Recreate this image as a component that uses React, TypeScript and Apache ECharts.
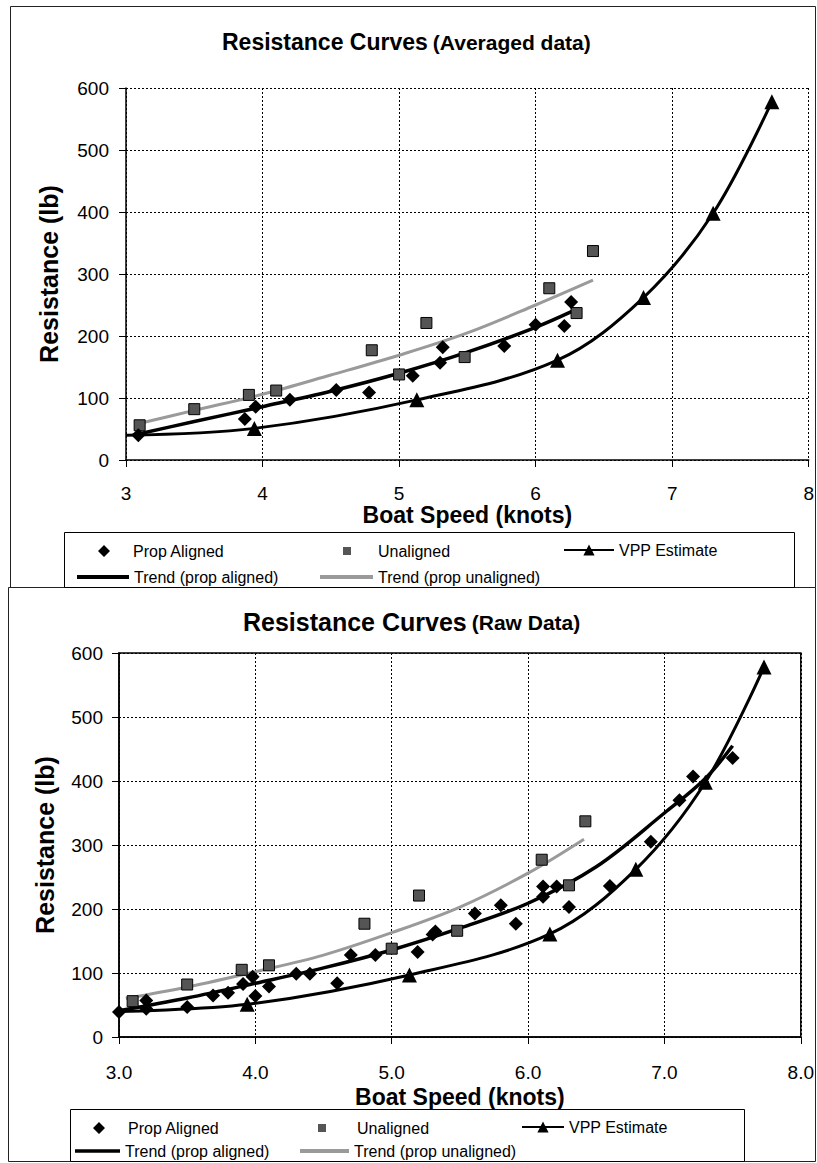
import React, { useEffect, useRef } from "react";
import * as echarts from "echarts";

// ---------- data ----------
const X_TICKS = [3, 4, 5, 6, 7, 8];
const Y_TICKS = [0, 100, 200, 300, 400, 500, 600];

// Averaged data (top chart)
const avgAlignedX = [3.09, 3.87, 3.95, 4.2, 4.54, 4.78, 5.1, 5.3, 5.32, 5.77, 6.0, 6.21, 6.26];
const avgAlignedY = [40, 66, 86, 97, 113, 109, 136, 157, 182, 184, 218, 216, 255];

const unalignedX = [3.1, 3.5, 3.9, 4.1, 4.8, 5.0, 5.2, 5.48, 6.1, 6.3, 6.42];
const unalignedY = [56, 82, 105, 112, 177, 138, 221, 166, 277, 237, 337];

const vppX = [3.0, 3.94, 5.13, 6.16, 6.79, 7.3, 7.73];
const vppY = [40, 51, 97, 161, 262, 398, 578];

const avgTrendAlignedX = [3.05, 3.5, 4.0, 4.5, 5.0, 5.5, 6.0, 6.27];
const avgTrendAlignedY = [40, 62, 86, 111, 140, 174, 214, 240];
const avgTrendUnalignedX = [3.08, 3.5, 4.0, 4.5, 5.0, 5.5, 6.0, 6.42];
const avgTrendUnalignedY = [58, 80, 106, 137, 169, 205, 250, 290];

// Raw data (bottom chart)
const rawAlignedX = [3.0, 3.2, 3.2, 3.5, 3.69, 3.8, 3.91, 3.98, 4.0, 4.1, 4.3, 4.4, 4.6, 4.7, 4.88, 5.19, 5.3, 5.32, 5.61, 5.8, 5.91, 6.11, 6.11, 6.21, 6.3, 6.6, 6.9, 7.11, 7.21, 7.5];
const rawAlignedY = [39, 44, 57, 47, 65, 69, 83, 94, 64, 79, 99, 99, 84, 128, 128, 133, 160, 165, 193, 206, 177, 235, 219, 235, 203, 236, 305, 370, 407, 436];

const rawTrendAlignedX = [3.0, 3.5, 4.0, 4.5, 5.0, 5.5, 6.0, 6.5, 7.0, 7.3, 7.5];
const rawTrendAlignedY = [41, 61, 84, 108, 136, 170, 209, 266, 350, 404, 455];
const rawTrendUnalignedX = [3.05, 3.5, 4.0, 4.5, 5.0, 5.5, 6.0, 6.41];
const rawTrendUnalignedY = [60, 78, 102, 128, 163, 203, 256, 309];

const NAMES = {
  aligned: "Prop Aligned",
  unaligned: "Unaligned",
  vpp: "VPP Estimate",
  trendA: "Trend (prop aligned)",
  trendU: "Trend (prop unaligned)",
};

const FONT = '"Liberation Sans", Arial, Helvetica, sans-serif';
const zip = (xs: number[], ys: number[]) => xs.map((x, i) => [x, ys[i]]);

// Legend icons drawn in a wide box (corner anchors are zero-area so they do not show)
const iconDiamond = (w: number) =>
  `path://M0,0L0.001,0L0,0.001Z M${w},12L${w - 0.001},12L${w},11.999Z M${w / 2 - 6},6L${w / 2},0L${w / 2 + 6},6L${w / 2},12Z`;
const iconSquare = (w: number) =>
  `path://M0,0L0.001,0L0,0.001Z M${w},12L${w - 0.001},12L${w},11.999Z M${w / 2 - 4},2H${w / 2 + 4}V10H${w / 2 - 4}Z`;
const BAR = "path://M0,0H50V4H0Z";

function chartSeries(idx: number, aligned: number[][], trendA: number[][], trendU: number[][]) {
  return [
    {
      type: "line",
      name: NAMES.trendU,
      xAxisIndex: idx,
      yAxisIndex: idx,
      data: trendU,
      smooth: 0.35,
      symbol: "none",
      showSymbol: false,
      lineStyle: { color: "#9a9a9a", width: 3 },
      itemStyle: { color: "#9a9a9a" },
      z: 2,
    },
    {
      type: "line",
      name: NAMES.trendA,
      xAxisIndex: idx,
      yAxisIndex: idx,
      data: trendA,
      smooth: 0.35,
      symbol: "none",
      showSymbol: false,
      lineStyle: { color: "#000", width: 3.5 },
      itemStyle: { color: "#000" },
      z: 2,
    },
    {
      type: "line",
      name: NAMES.vpp,
      xAxisIndex: idx,
      yAxisIndex: idx,
      data: zip(vppX, vppY).map((p, i) => (i === 0 ? { value: p, symbol: "none" } : p)),
      smooth: 0.35,
      symbol: "triangle",
      symbolSize: 15,
      showSymbol: true,
      lineStyle: { color: "#000", width: 3 },
      itemStyle: { color: "#000" },
      z: 3,
    },
    {
      type: "scatter",
      name: NAMES.unaligned,
      xAxisIndex: idx,
      yAxisIndex: idx,
      data: zip(unalignedX, unalignedY),
      symbol: "rect",
      symbolSize: 11,
      itemStyle: { color: "#555", borderColor: "#000", borderWidth: 1, opacity: 1 },
      z: 4,
    },
    {
      type: "scatter",
      name: NAMES.aligned,
      xAxisIndex: idx,
      yAxisIndex: idx,
      data: aligned,
      symbol: "diamond",
      symbolSize: 14,
      itemStyle: { color: "#000", opacity: 1 },
      z: 5,
    },
  ];
}

function legendItem(name: string, left: number, cy: number, w: number, h: number, icon?: string, keep = true) {
  const d: any = { name };
  if (icon) d.icon = icon;
  const item: any = {
    data: [d],
    left,
    top: cy - h / 2,
    itemWidth: w,
    itemHeight: h,
    padding: 0,
    itemGap: 0,
    selectedMode: false,
    symbolKeepAspect: keep,
    textStyle: { fontFamily: FONT, fontSize: 16, color: "#000" },
  };
  if (!keep) item.itemStyle = { borderWidth: 0 };
  return item;
}

export default function App() {
  const ref = useRef<HTMLDivElement>(null);

  useEffect(() => {
    if (!ref.current) return;
    const chart = echarts.init(ref.current, null, { renderer: "svg" });

    const axisLabel = { color: "#000", fontFamily: FONT, fontSize: 19 };
    const splitLine = { show: true, lineStyle: { color: "#000", type: [2, 2], width: 1 } };
    const axisLine = { show: true, onZero: false, lineStyle: { color: "#000", width: 1.5 } };
    const axisTick = { show: true, inside: false, length: 7, lineStyle: { color: "#000", width: 1 } };
    const nameStyle = { fontFamily: FONT, fontSize: 23, fontWeight: "bold", color: "#000" };

    const option: any = {
      animation: false,
      backgroundColor: "#fff",
      title: [
        {
          text: "{a|Resistance Curves} {b|(Averaged data)}",
          left: 222,
          top: 28,
          padding: 0,
          textStyle: {
            rich: {
              a: { fontFamily: FONT, fontSize: 23, fontWeight: "bold", color: "#000", lineHeight: 28 },
              b: { fontFamily: FONT, fontSize: 21, fontWeight: "bold", color: "#000", lineHeight: 28 },
            },
          },
        },
        {
          text: "{a|Resistance Curves} {b|(Raw Data)}",
          left: 243,
          top: 607,
          padding: 0,
          textStyle: {
            rich: {
              a: { fontFamily: FONT, fontSize: 25, fontWeight: "bold", color: "#000", lineHeight: 30 },
              b: { fontFamily: FONT, fontSize: 21, fontWeight: "bold", color: "#000", lineHeight: 30 },
            },
          },
        },
      ],
      grid: [
        { left: 126, top: 88, width: 683, height: 372, containLabel: false },
        {
          left: 119,
          top: 653,
          width: 683,
          height: 384,
          containLabel: false,
          show: true,
          borderColor: "#000",
          borderWidth: 1.5,
          backgroundColor: "transparent",
        },
      ],
      xAxis: [
        {
          type: "value",
          gridIndex: 0,
          min: X_TICKS[0],
          max: X_TICKS[X_TICKS.length - 1],
          interval: 1,
          name: "Boat Speed (knots)",
          nameLocation: "middle",
          nameGap: 40,
          nameTextStyle: nameStyle,
          axisLine,
          axisTick,
          splitLine,
          axisLabel: { ...axisLabel, margin: 24 },
        },
        {
          type: "value",
          gridIndex: 1,
          min: X_TICKS[0],
          max: X_TICKS[X_TICKS.length - 1],
          interval: 1,
          name: "Boat Speed (knots)",
          nameLocation: "middle",
          nameGap: 48,
          nameTextStyle: nameStyle,
          axisLine,
          axisTick,
          splitLine,
          axisLabel: { ...axisLabel, margin: 26, formatter: (v: number) => v.toFixed(1) },
        },
      ],
      yAxis: [
        {
          type: "value",
          gridIndex: 0,
          min: Y_TICKS[0],
          max: Y_TICKS[Y_TICKS.length - 1],
          interval: 100,
          name: "Resistance (lb)",
          nameLocation: "middle",
          nameRotate: 90,
          nameGap: 65,
          nameTextStyle: { ...nameStyle, fontSize: 25 },
          axisLine,
          axisTick,
          splitLine,
          axisLabel: { ...axisLabel, margin: 17 },
        },
        {
          type: "value",
          gridIndex: 1,
          min: Y_TICKS[0],
          max: Y_TICKS[Y_TICKS.length - 1],
          interval: 100,
          name: "Resistance (lb)",
          nameLocation: "middle",
          nameRotate: 90,
          nameGap: 62,
          nameTextStyle: { ...nameStyle, fontSize: 25 },
          axisLine,
          axisTick,
          splitLine,
          axisLabel: { ...axisLabel, margin: 16 },
        },
      ],
      legend: [
        // top chart legend
        legendItem(NAMES.aligned, 80, 549, 48, 12, iconDiamond(48), false),
        legendItem(NAMES.unaligned, 321, 549, 52, 12, iconSquare(52), false),
        legendItem(NAMES.vpp, 563, 549, 50, 14),
        legendItem(NAMES.trendA, 77, 576, 52, 14, BAR),
        legendItem(NAMES.trendU, 320, 576, 53, 14, BAR),
        // bottom chart legend
        legendItem(NAMES.aligned, 75, 1126, 48, 12, iconDiamond(48), false),
        legendItem(NAMES.unaligned, 292, 1126, 60, 12, iconSquare(60), false),
        legendItem(NAMES.vpp, 521, 1126, 42, 14),
        legendItem(NAMES.trendA, 75, 1150, 45, 14, BAR),
        legendItem(NAMES.trendU, 300, 1150, 49, 14, BAR),
      ],
      graphic: [
        {
          type: "rect",
          shape: { x: 10.5, y: 6.5, width: 805, height: 581 },
          style: { fill: "none", stroke: "#222", lineWidth: 1 },
          z: 0,
        },
        {
          type: "rect",
          shape: { x: 8.5, y: 587.5, width: 807, height: 574 },
          style: { fill: "none", stroke: "#222", lineWidth: 1 },
          z: 0,
        },
        {
          type: "rect",
          shape: { x: 64.5, y: 532.5, width: 730, height: 55 },
          style: { fill: "#fff", stroke: "#000", lineWidth: 1 },
          z: 1,
        },
        {
          type: "rect",
          shape: { x: 70.5, y: 1109.5, width: 674, height: 52 },
          style: { fill: "#fff", stroke: "#000", lineWidth: 1 },
          z: 1,
        },
      ],
      series: [
        ...chartSeries(
          0,
          zip(avgAlignedX, avgAlignedY),
          zip(avgTrendAlignedX, avgTrendAlignedY),
          zip(avgTrendUnalignedX, avgTrendUnalignedY)
        ),
        ...chartSeries(
          1,
          zip(rawAlignedX, rawAlignedY),
          zip(rawTrendAlignedX, rawTrendAlignedY),
          zip(rawTrendUnalignedX, rawTrendUnalignedY)
        ),
      ],
    };

    chart.setOption(option);
    return () => chart.dispose();
  }, []);

  return (
    <div
      ref={ref}
      style={{ position: "absolute", left: 0, top: 0, width: 817, height: 1163, background: "#fff" }}
    />
  );
}
